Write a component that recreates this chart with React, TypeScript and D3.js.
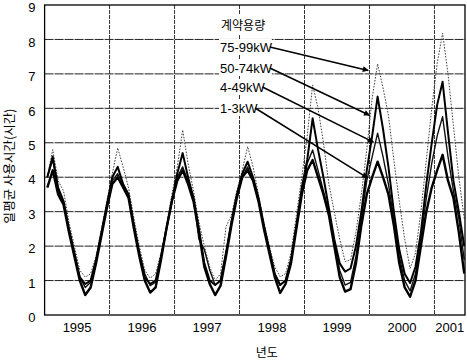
import React from "react";
import * as d3 from "d3";

// monthly daily-average usage hours, Jan 1995 .. Jun 2001
const startYear = 1995;

const s13 = [
  3.7, 4.2, 3.5, 3.2, 2.4, 1.7, 1.0, 0.58, 0.8, 1.5, 2.3, 3.1,
  3.8, 4.0, 3.7, 3.4, 2.5, 1.7, 1.0, 0.65, 0.8, 1.6, 2.5, 3.3,
  3.9, 4.2, 3.8, 3.3, 2.4, 1.4, 0.9, 0.58, 0.85, 1.7, 2.6, 3.4,
  4.0, 4.2, 3.9, 3.3, 2.5, 1.8, 1.1, 0.64, 0.9, 1.5, 2.5, 3.5,
  4.2, 4.5, 4.0, 3.5, 2.9, 2.0, 1.1, 0.68, 0.75, 1.5, 2.6, 3.5,
  4.0, 4.45, 4.0, 3.5, 2.6, 1.5, 0.8, 0.53, 1.0, 2.0, 3.0, 3.7,
  4.2, 4.65, 3.9, 3.4, 2.4, 1.2,
];

const s449 = [
  4.0, 4.5, 3.6, 3.3, 2.5, 1.8, 1.1, 0.8, 0.95, 1.6, 2.4, 3.2,
  3.9, 4.1, 3.8, 3.5, 2.6, 1.8, 1.2, 0.85, 0.95, 1.7, 2.5, 3.3,
  4.0, 4.3, 3.9, 3.4, 2.2, 1.9, 1.3, 0.87, 1.0, 1.8, 2.7, 3.4,
  4.0, 4.3, 3.9, 3.4, 2.6, 1.9, 1.2, 0.87, 1.0, 1.6, 2.6, 3.6,
  4.4, 4.79, 4.2, 3.6, 3.0, 2.1, 1.3, 0.87, 0.95, 1.7, 2.8, 3.9,
  4.6, 5.28, 4.6, 3.8, 2.8, 1.7, 1.0, 0.7, 1.2, 2.2, 3.4, 4.4,
  5.2, 5.76, 4.6, 3.6, 2.8, 1.6,
];

const s5074 = [
  4.0, 4.6, 3.7, 3.3, 2.5, 1.8, 1.1, 0.9, 1.0, 1.6, 2.4, 3.2,
  4.0, 4.3, 3.8, 3.5, 2.6, 1.8, 1.1, 0.9, 1.0, 1.7, 2.5, 3.3,
  4.1, 4.7, 4.0, 3.4, 2.5, 1.5, 1.0, 0.87, 1.0, 1.8, 2.7, 3.5,
  4.1, 4.45, 4.0, 3.4, 2.6, 1.9, 1.2, 0.87, 1.0, 1.6, 2.6, 3.7,
  4.5, 5.71, 4.8, 4.0, 3.1, 2.2, 1.5, 1.26, 1.35, 2.0, 3.0, 4.2,
  5.2, 6.34, 5.4, 4.3, 3.0, 1.9, 1.2, 0.93, 1.4, 2.4, 3.8, 5.0,
  6.1, 6.77, 5.3, 3.9, 3.0, 2.0,
];

const s7599 = [
  4.0, 4.8, 3.9, 3.6, 2.7, 2.0, 1.3, 1.1, 1.2, 1.7, 2.5, 3.3,
  4.1, 4.85, 4.3, 3.7, 2.8, 2.0, 1.3, 1.07, 1.2, 1.8, 2.6, 3.5,
  4.3, 5.37, 4.4, 3.6, 2.7, 2.0, 1.4, 1.0, 1.2, 2.56, 2.9, 3.6,
  4.2, 4.89, 4.3, 3.5, 2.7, 2.0, 1.4, 1.11, 1.2, 1.8, 2.9, 4.0,
  5.2, 6.68, 6.0, 5.0, 3.8, 3.0, 2.2, 1.55, 1.6, 2.4, 3.5, 4.8,
  6.3, 7.29, 6.6, 5.8, 4.5, 3.3, 2.2, 1.35, 1.8, 3.0, 4.5, 6.0,
  7.3, 8.18, 7.0, 5.5, 4.0, 2.8,
];

const yearLabels = ["1995", "1996", "1997", "1998", "1999", "2000", "2001"];
const yTicks = [0, 1, 2, 3, 4, 5, 6, 7, 8, 9];

// legend labels and where their arrows point (year, hours)
const legendTitle = "계약용량";
const legendNames = ["75-99kW", "50-74kW", "4-49kW", "1-3kW"];
const arrowTargets: [number, number][] = [
  [1999.98, 7.1],
  [2000.0, 5.8],
  [2000.06, 5.02],
  [1999.97, 3.98],
];

const W = 467;
const H = 362;
const m = { left: 44.6, right: 465, top: 5, bottom: 315 };
const xMax = 2001.47;

const x = d3.scaleLinear().domain([startYear, xMax]).range([m.left, m.right]);
const y = d3.scaleLinear().domain([0, 9]).range([m.bottom, m.top]);

const toPts = (vals: number[]) =>
  vals.map((v, i) => ({ t: startYear + (i + 0.5) / 12, v }));

const line = d3
  .line<{ t: number; v: number }>()
  .x((d) => x(d.t))
  .y((d) => y(d.v));

const series = [
  { name: "75-99kW", vals: s7599, width: 1, dash: "1.6,1.4", color: "#444" },
  { name: "4-49kW", vals: s449, width: 1.4, dash: "", color: "#111" },
  { name: "50-74kW", vals: s5074, width: 2, dash: "", color: "#000" },
  { name: "1-3kW", vals: s13, width: 2.4, dash: "", color: "#000" },
];

const font = "'Liberation Sans', Arial, sans-serif";
const kfont = "'Noto Sans CJK KR', sans-serif";

export default function App() {
  const years = d3.range(startYear + 1, Math.floor(xMax) + 1);
  const legendX = x(1997.7);
  const legendY = [47, 68, 87, 108].map((py) => y.invert(py));

  return (
    <svg
      width={W}
      height={H}
      style={{ position: "absolute", left: 0, top: 0, background: "#fff" }}
    >
      <defs>
        <clipPath id="plot">
          <rect x={m.left} y={m.top} width={m.right - m.left} height={m.bottom - m.top} />
        </clipPath>
        <marker
          id="arrow"
          viewBox="0 0 10 10"
          refX="9"
          refY="5"
          markerWidth="7"
          markerHeight="6"
          orient="auto"
          markerUnits="userSpaceOnUse"
        >
          <path d="M0,0 L10,5 L0,10 z" fill="#000" />
        </marker>
      </defs>

      {/* grid */}
      {yTicks.slice(1, -1).map((t) => (
        <line
          key={"h" + t}
          x1={m.left}
          x2={m.right}
          y1={y(t)}
          y2={y(t)}
          stroke="#222"
          strokeWidth={1}
          strokeDasharray="9,1"
        />
      ))}
      {years.map((yr) => (
        <line
          key={"v" + yr}
          x1={x(yr)}
          x2={x(yr)}
          y1={m.top}
          y2={m.bottom}
          stroke="#333"
          strokeWidth={1}
          strokeDasharray="4,1"
        />
      ))}

      {/* series */}
      <g clipPath="url(#plot)">
        {series.map((s) => (
          <path
            key={s.name}
            d={line(toPts(s.vals)) || ""}
            fill="none"
            stroke={s.color}
            strokeWidth={s.width}
            strokeDasharray={s.dash}
            strokeLinejoin="round"
          />
        ))}
      </g>

      {/* frame */}
      <rect
        x={m.left}
        y={m.top}
        width={m.right - m.left}
        height={m.bottom - m.top}
        fill="none"
        stroke="#000"
        strokeWidth={1.3}
      />

      {/* y ticks */}
      {yTicks.map((t) => (
        <text
          key={"yt" + t}
          x={m.left - 9}
          y={y(t) + 2.5}
          dy="0.36em"
          textAnchor="end"
          fontFamily={font}
          fontSize={13}
        >
          {t}
        </text>
      ))}

      {/* x labels, centred in each visible year */}
      {yearLabels.map((lab, i) => {
        const a = startYear + i;
        const b = Math.min(a + 1, xMax);
        return (
          <text
            key={lab}
            x={(x(a) + x(b)) / 2}
            y={m.bottom + 17}
            textAnchor="middle"
            fontFamily={font}
            fontSize={13}
          >
            {lab}
          </text>
        );
      })}

      <text
        x={(m.left + m.right) / 2 + 12}
        y={357}
        textAnchor="middle"
        fontFamily={kfont}
        fontSize={12}
      >
        년도
      </text>
      <text
        transform={`translate(14,${(m.top + m.bottom) / 2 + 6}) rotate(-90)`}
        textAnchor="middle"
        fontFamily={kfont}
        fontSize={12.5}
      >
        일평균 사용시간(시간)
      </text>

      {/* legend with arrows */}
      <rect x={legendX - 2} y={14} width={54} height={20} fill="#fff" />
      <text x={legendX + 1} y={30} fontFamily={kfont} fontSize={12}>
        {legendTitle}
      </text>
      {legendNames.map((n, i) => {
        const ty = y(legendY[i]);
        const w = n.length * 7.4;
        const [tx, tv] = arrowTargets[i];
        return (
          <g key={n}>
            <rect x={legendX - 1} y={ty - 8} width={w + 1} height={16} fill="#fff" />
            <text
              x={legendX}
              y={ty}
              dy="0.36em"
              fontFamily={font}
              fontSize={13}
            >
              {n}
            </text>
            <line
              x1={legendX + w - 2}
              y1={ty}
              x2={x(tx)}
              y2={y(tv)}
              stroke="#000"
              strokeWidth={1.5}
              markerEnd="url(#arrow)"
            />
          </g>
        );
      })}
    </svg>
  );
}
